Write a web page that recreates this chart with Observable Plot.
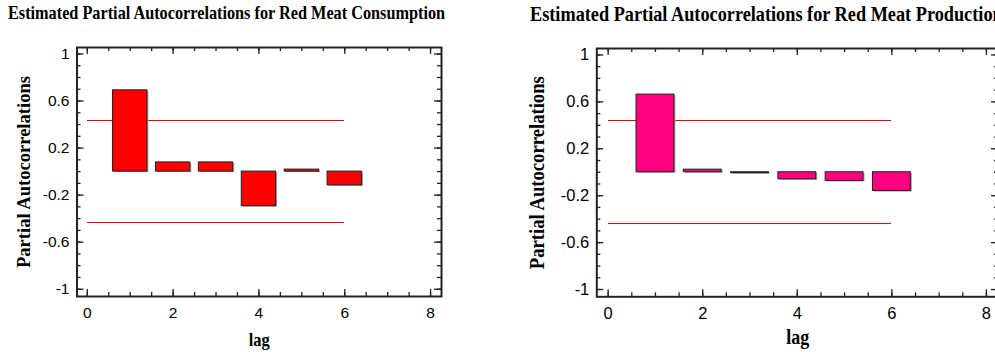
<!DOCTYPE html>
<html><head><meta charset="utf-8">
<script src="https://cdn.jsdelivr.net/npm/d3@7"></script>
<script src="https://cdn.jsdelivr.net/npm/@observablehq/plot@0.6"></script>
<style>
html,body{margin:0;padding:0;background:#fff;overflow:hidden;}
#wrap{position:relative;width:995px;height:352px;overflow:hidden;background:#fff;}
.title{position:absolute;white-space:nowrap;font-family:"Liberation Serif","Times New Roman",serif;font-weight:bold;line-height:1;transform-origin:0 0;color:#000;}
.panel{position:absolute;top:0;}
.panel svg{max-width:none !important;}
</style></head><body><div id="wrap"></div>
<script>
const lags = [1, 2, 3, 4, 5, 6];
const consumptionPacf = [0.691, 0.078, 0.078, -0.294, 0.017, -0.117];
const productionPacf = [0.662, 0.022, -0.008, -0.06, -0.074, -0.16];
const limitConsumption = 0.437;
const limitProduction = 0.437;
const yTickLabels = [1, 0.6, 0.2, -0.2, -0.6, -1];
const xTickLabels = [0, 2, 4, 6, 8];
const yMinorTicks = d3.range(-10, 11).map(i => i / 10);
const xMinorTicks = d3.range(0, 17).map(i => i / 2);
const titleConsumption = "Estimated Partial Autocorrelations for Red Meat Consumption";
const titleProduction = "Estimated Partial Autocorrelations for Red Meat Production";
const yLabel = "Partial Autocorrelations";
const xLabel = "lag";

const serif = "'Liberation Serif', 'Times New Roman', serif";
const sans = "'Liberation Sans', Arial, sans-serif";
const wrap = document.getElementById("wrap");

function addTitle(text, left, top, size, sx) {
  const d = document.createElement("div");
  d.className = "title";
  d.textContent = text;
  d.style.left = left + "px";
  d.style.top = top + "px";
  d.style.fontSize = size + "px";
  d.style.transform = `scaleX(${sx})`;
  wrap.appendChild(d);
}

function panel(o) {
  const data = lags.map((lag, i) => ({lag, value: o.values[i]}));
  const fh = 352 - o.mt - o.mb;
  const fw = o.width - o.ml - o.mr;
  const tk = {stroke: "#222", strokeWidth: 1.3};
  const plot = Plot.plot({
    width: o.width, height: 352,
    marginLeft: o.ml, marginRight: o.mr, marginTop: o.mt, marginBottom: o.mb,
    style: {fontFamily: sans, fontSize: o.tickFont + "px", color: "#000", background: "transparent", overflow: "visible", maxWidth: "none"},
    x: {domain: [-0.24, 8.255], label: null},
    y: {domain: [-1.062, 1.055], label: null},
    marks: [
      Plot.ruleY([-o.limit, o.limit], {x1: 0, x2: 6, stroke: "#ff0000", strokeWidth: 1, shapeRendering: "crispEdges"}),
      Plot.rect(data, {x1: d => d.lag - 0.4, x2: d => d.lag + 0.4, y1: 0, y2: "value", fill: "#9a9a9a", dx: 1.5, dy: 1}),
      Plot.rect(data, {x1: d => d.lag - 0.4, x2: d => d.lag + 0.4, y1: 0, y2: "value", fill: o.fill, stroke: "#222", strokeWidth: 1}),
      Plot.ruleX(xMinorTicks, {...tk, insetTop: fh - 4}),
      Plot.ruleX(xTickLabels, {...tk, insetTop: fh - 7}),
      Plot.ruleX(xMinorTicks, {...tk, insetBottom: fh - 4}),
      Plot.ruleX(xTickLabels, {...tk, insetBottom: fh - 7}),
      Plot.ruleY(yMinorTicks, {...tk, insetRight: fw - 4}),
      Plot.ruleY(yTickLabels, {...tk, insetRight: fw - 7}),
      Plot.ruleY(yMinorTicks, {...tk, insetLeft: fw - 4}),
      Plot.ruleY(yTickLabels, {...tk, insetLeft: fw - 7}),
      Plot.frame({stroke: "#222", strokeWidth: 2}),
      Plot.axisX(xTickLabels, {tickSize: 0, tickPadding: 10, tickFormat: d => String(d), fontSize: o.tickFont, label: null}),
      Plot.axisY(yTickLabels, {tickSize: 0, tickPadding: 7.5, tickFormat: d => String(d), fontSize: o.tickFont, label: null}),
      Plot.text([yLabel], {text: d => d, frameAnchor: "left", dx: o.ylabDx, rotate: -90, textAnchor: "middle", lineAnchor: "middle",
        fontFamily: serif, fontWeight: "bold", fontSize: o.labFont, fill: "#000"}),
      Plot.text([xLabel], {text: d => d, frameAnchor: "bottom", dy: o.xlabDy, textAnchor: "middle", lineAnchor: "middle",
        fontFamily: serif, fontWeight: "bold", fontSize: o.labFont, fill: "#000"})
    ]
  });
  plot.querySelectorAll("text").forEach(t => {
    if (t.textContent === yLabel) { t.setAttribute("textLength", o.ylabLen); t.setAttribute("lengthAdjust", "spacingAndGlyphs"); }
    if (t.textContent === xLabel) { t.setAttribute("textLength", o.xlabLen); t.setAttribute("lengthAdjust", "spacingAndGlyphs"); }
  });
  const div = document.createElement("div");
  div.className = "panel";
  div.style.left = o.left + "px";
  div.style.width = o.width + "px";
  div.appendChild(plot);
  wrap.appendChild(div);
}

panel({values: consumptionPacf, limit: limitConsumption, fill: "#ff0000", left: 0, width: 497,
  ml: 76.5, mr: 56, mt: 47, mb: 56, tickFont: 15.5, labFont: 19, ylabDx: -52.8, ylabLen: 192, xlabDy: 43, xlabLen: 21});
panel({values: productionPacf, limit: limitProduction, fill: "#ff0080", left: 497, width: 511,
  ml: 99.3, mr: 10, mt: 48, mb: 55.7, tickFont: 16.5, labFont: 20, ylabDx: -58.8, ylabLen: 193, xlabDy: 41, xlabLen: 23});

addTitle(titleConsumption, 8, 3.4, 19, 0.855);
addTitle(titleProduction, 530, 4, 20, 0.913);
</script>
</body></html>
